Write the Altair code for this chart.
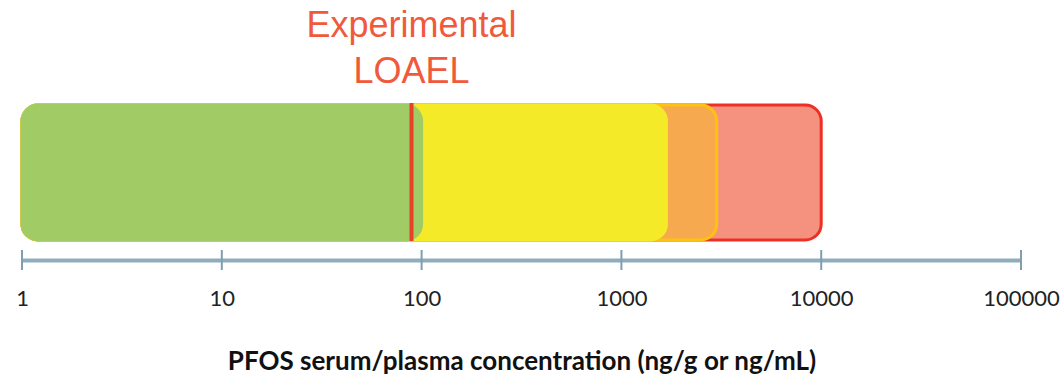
import altair as alt
import pandas as pd

# Data
band_names = ["Red", "Orange", "Yellow", "Green"]
band_start = [1, 1, 1, 1]
band_end = [10000, 3000, 1680, 100]
band_fill = ["#f4917f", "#f7a94f", "#f4ea27", "#a1cb64"]
band_stroke = ["#ee3024", "#fec30f", "#f4ea27", "#a1cb64"]

loael_value = [89]
loael_label = ["Experimental\nLOAEL"]

tick_values = [1, 10, 100, 1000, 10000, 100000]

bands = pd.DataFrame({"name": band_names, "start": band_start, "end": band_end})
loael = pd.DataFrame({"x": loael_value, "label": loael_label})
ticks = pd.DataFrame({"v": tick_values})

xscale = alt.Scale(type="log", domain=[1, 100000], nice=False)

x_axis = alt.Axis(
    values=tick_values,
    format="d",
    ticks=False,
    grid=False,
    domainColor="#8fadbc",
    domainWidth=4,
    labelFont="Lato",
    labelFontSize=22,
    labelColor="#222222",
    labelPadding=28,
    labelFlush=False,
    title="PFOS serum/plasma concentration (ng/g or ng/mL)",
    titleFont="Lato",
    titleFontSize=26,
    titleFontWeight="bold",
    titleColor="#111111",
    titleBaseline="alphabetic",
    titleY=109,
)

bars = alt.Chart(bands).mark_bar(cornerRadius=16, strokeWidth=3).encode(
    x=alt.X("start:Q", scale=xscale, axis=x_axis),
    x2="end:Q",
    y=alt.value(105),
    y2=alt.value(240),
    color=alt.Color("name:N", scale=alt.Scale(domain=band_names, range=band_fill), legend=None),
    stroke=alt.Stroke("name:N", scale=alt.Scale(domain=band_names, range=band_stroke), legend=None),
)

line = alt.Chart(loael).mark_rule(color="#e8412a", strokeWidth=4).encode(
    x=alt.X("x:Q", scale=xscale),
    y=alt.value(103),
    y2=alt.value(241),
)

label = alt.Chart(loael).mark_text(
    font="Liberation Sans",
    fontSize=36,
    color="#f05a3c",
    lineBreak="\n",
    lineHeight=46,
    align="center",
    baseline="alphabetic",
).encode(
    x=alt.X("x:Q", scale=xscale),
    y=alt.value(37),
    text="label:N",
)

tickmarks = alt.Chart(ticks).mark_rule(color="#7f9fb0", strokeWidth=2).encode(
    x=alt.X("v:Q", scale=xscale),
    y=alt.value(250),
    y2=alt.value(270),
)

chart = (
    alt.layer(bars, line, label, tickmarks)
    .properties(
        width=999,
        height=260,
        background="white",
        autosize=alt.AutoSizeParams(type="none"),
        padding={"left": 22, "top": 0, "right": 40, "bottom": 122},
    )
    .configure_view(strokeWidth=0, stroke="transparent")
)

chart.save("out.html", embed_options={"renderer": "svg", "actions": False})
